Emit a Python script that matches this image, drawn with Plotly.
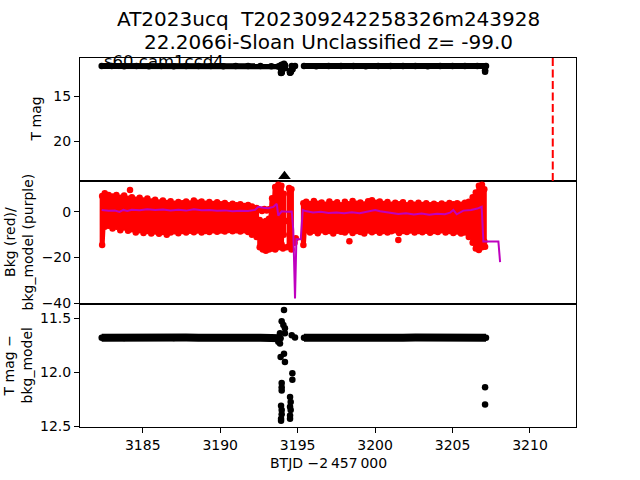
import plotly.graph_objects as go
from plotly.subplots import make_subplots

FONT = "DejaVu Sans"

# ---------------- data ----------------
# T mag light curve: dense flat band (two orbits)
band_t = [3182.35, 3183.0, 3183.8, 3184.6, 3185.4, 3186.2, 3187.0, 3187.8, 3188.6, 3189.4,
          3190.2, 3191.0, 3191.8, 3192.6, 3193.3, 3193.9,
          3195.41, 3196.2, 3197.0, 3197.8, 3198.6, 3199.4, 3200.2, 3201.0, 3201.8, 3202.6,
          3203.4, 3204.2, 3205.0, 3205.8, 3206.6, 3207.16]
band_mag = [11.682, 11.680, 11.684, 11.679, 11.683, 11.681, 11.684, 11.680, 11.682, 11.679,
            11.683, 11.680, 11.682, 11.681, 11.684, 11.686,
            11.681, 11.683, 11.679, 11.682, 11.680, 11.683, 11.681, 11.679, 11.682, 11.680,
            11.683, 11.681, 11.679, 11.682, 11.678, 11.682]
# T mag individual deviating points
pts_t = [3194.12, 3193.97, 3194.08, 3194.18, 3193.86, 3194.18, 3194.62, 3194.83, 3193.75,
         3193.86, 3194.12, 3193.90, 3194.18, 3194.66, 3194.66, 3193.97, 3193.97, 3193.97,
         3194.51, 3194.55, 3193.93, 3194.51, 3193.97, 3194.55, 3193.97, 3194.51, 3193.93,
         3194.51, 3193.93, 3207.10, 3207.10]
pts_mag = [11.426, 11.53, 11.565, 11.595, 11.64, 11.64, 11.66, 11.68, 11.72,
           11.735, 11.83, 11.86, 11.905, 12.01, 12.07, 12.10, 12.14, 12.17,
           12.23, 12.275, 12.31, 12.32, 12.35, 12.35, 12.39, 12.40, 12.43,
           12.43, 12.45, 12.14, 12.30]

# Background: upper / lower extent of the dense red scatter per time column
bkg_t = [3182.38, 3182.55, 3182.80, 3183.05, 3183.30, 3183.55, 3183.80, 3184.05, 3184.30, 3184.55,
         3184.80, 3185.05, 3185.30, 3185.55, 3185.80, 3186.05, 3186.30, 3186.55, 3186.80, 3187.05,
         3187.30, 3187.55, 3187.80, 3188.05, 3188.30, 3188.55, 3188.80, 3189.05, 3189.30, 3189.55,
         3189.80, 3190.05, 3190.30, 3190.55, 3190.80, 3191.05, 3191.30, 3191.55, 3191.80, 3192.05,
         3192.35, 3192.55, 3192.75, 3192.95, 3193.15, 3193.35, 3193.55, 3193.75, 3193.95, 3194.10,
         3194.45, 3194.60,
         3195.37, 3195.55, 3195.80, 3196.05, 3196.30, 3196.55, 3196.80, 3197.05, 3197.30, 3197.55,
         3197.80, 3198.05, 3198.30, 3198.55, 3198.80, 3199.05, 3199.30, 3199.55, 3199.80, 3200.05,
         3200.30, 3200.55, 3200.80, 3201.05, 3201.30, 3201.55, 3201.80, 3202.05, 3202.30, 3202.55,
         3202.80, 3203.05, 3203.30, 3203.55, 3203.80, 3204.05, 3204.30, 3204.55, 3204.80, 3205.05,
         3205.30, 3205.55, 3205.80, 3206.05, 3206.30, 3206.50, 3206.70, 3206.90, 3207.05]
bkg_hi = [7.0, 8.2, 7.5, 6.8, 7.5, 6.2, 7.2, 5.8, 6.5, 5.4,
          6.2, 5.0, 5.9, 4.6, 5.4, 4.2, 5.0, 3.9, 4.7, 3.6,
          4.4, 3.8, 4.6, 3.7, 5.0, 4.0, 4.6, 3.6, 4.4, 3.5,
          4.3, 3.4, 3.9, 3.0, 3.6, 2.9, 3.4, 2.6, 3.1, 2.4,
          1.8, -3.5, -4.5, -4.0, -3.0, 6.0, 11.0, 12.0, 11.5, 8.0,
          10.5, 10.0,
          3.8, 4.5, 3.5, 4.8, 3.6, 4.2, 3.2, 4.6, 3.5, 4.3,
          3.0, 4.5, 3.4, 4.8, 3.6, 4.2, 3.3, 4.7, 5.2, 4.0,
          4.6, 3.5, 4.4, 3.2, 4.1, 3.4, 4.3, 3.0, 3.9, 3.2,
          4.0, 3.1, 3.8, 3.0, 3.6, 2.9, 3.7, 3.1, 3.9, 3.4,
          3.8, 3.2, 4.0, 4.5, 6.5, 8.5, 11.5, 12.0, 10.0]
bkg_lo = [-14.5, -6.5, -6.0, -7.2, -6.5, -8.0, -6.8, -8.2, -7.6, -9.0,
          -8.0, -9.2, -8.4, -9.5, -8.6, -9.6, -8.8, -10.0, -9.0, -8.5,
          -9.3, -8.4, -9.0, -8.2, -8.9, -8.1, -9.0, -8.3, -8.8, -8.0,
          -8.7, -8.1, -8.6, -7.9, -8.5, -8.0, -8.6, -8.0, -8.8, -10.0,
          -11.0, -15.5, -16.5, -17.0, -16.5, -16.0, -16.5, -15.5, -14.0, -10.0,
          -15.0, -16.5,
          -14.5, -8.0, -9.0, -8.2, -9.3, -8.0, -8.8, -8.3, -9.5, -8.2,
          -8.7, -9.0, -8.0, -9.2, -8.4, -8.8, -9.4, -8.1, -8.9, -8.2,
          -9.1, -8.3, -9.0, -8.5, -8.0, -9.2, -8.4, -8.8, -8.1, -9.0,
          -8.3, -8.9, -8.2, -9.1, -8.4, -8.8, -8.0, -9.0, -8.4, -9.2,
          -8.6, -9.5, -9.0, -11.0, -13.5, -16.0, -16.7, -15.5, -13.0]
# isolated background points
bkg_pt_t = [3184.18, 3198.34, 3201.50, 3207.10, 3192.55, 3192.70, 3192.85, 3193.00, 3193.15,
            3194.05, 3194.28, 3194.80, 3194.88, 3194.25, 3193.97]
bkg_pt_v = [9.7, -12.8, -12.3, -15.3, 1.0, 0.4, 1.3, 0.6, 1.2,
            -16.0, -15.5, -13.5, -11.5, -4.0, -14.7]

# background model (purple)
model_t = [3182.35, 3182.8, 3183.2, 3183.5, 3183.75, 3184.0, 3184.3, 3184.8, 3185.3, 3185.8,
           3186.3, 3186.8, 3187.3, 3187.8, 3188.3, 3188.8, 3189.3, 3189.8, 3190.3, 3190.8,
           3191.3, 3191.8, 3192.25, 3192.46, 3192.8, 3193.1, 3193.43, 3193.65, 3193.75, 3193.97,
           3194.3, 3194.62, 3194.72, 3194.83, 3194.92, 3195.2, 3195.33, 3195.5, 3196.0, 3196.5,
           3197.0, 3197.5, 3198.0, 3198.5, 3199.0, 3199.46, 3200.0, 3200.32, 3200.97, 3201.5,
           3202.0, 3202.5, 3203.0, 3203.5, 3204.0, 3204.5, 3204.84, 3205.05, 3205.27, 3205.7,
           3206.2, 3206.6, 3206.88, 3206.99, 3207.96, 3208.07]
model_v = [0.9, 0.5, 0.6, 0.0, 0.9, 0.4, 1.0, 0.8, 1.2, 0.9,
           1.1, 0.7, 1.0, 0.6, 1.2, 0.8, 0.9, 0.5, 0.7, 0.3,
           0.5, 0.4, 0.9, 2.3, 1.9, 1.6, 2.2, 3.6, -1.6, 0.3,
           0.1, 0.2, -8.0, -38.0, -12.0, -12.0, 0.9, 0.4, -0.2, 0.1,
           -0.4, -0.2, -0.6, -0.1, -0.5, 0.0, 0.9, 0.3, -0.5, -0.9,
           -0.6, -1.1, -0.7, -1.2, -0.8, -1.0, -0.3, 0.9, -1.0, 0.6,
           0.9, 1.5, 2.3, -13.0, -13.0, -22.0]

disc_t = [3194.15]
disc_mag = [23.9]
peak_t = 3211.47
label_txt = "s60 cam1ccd4"

title1 = "AT2023ucq\u00a0 T202309242258326m243928"
title2 = "22.2066i-Sloan Unclassified z= -99.0"

x_range = [3180.95, 3212.97]
top_range = [24.44, 10.78]
mid_range = [-40.4, 13.6]
bot_range = [12.507, 11.37]


def split_gaps(ts, vs, gap):
    xs, ys, prev = [], [], None
    for t, v in zip(ts, vs):
        if prev is not None and t - prev > gap:
            xs.append(None); ys.append(None)
        xs.append(t); ys.append(v)
        prev = t
    return xs, ys


def zigzag(ts, hi, lo, gap):
    xs, ys, prev = [], [], None
    for t, h, l in zip(ts, hi, lo):
        if prev is not None and t - prev > gap:
            xs.append(None); ys.append(None)
        xs += [t, t]; ys += [h, l]
        prev = t
    return xs, ys


fig = make_subplots(rows=3, cols=1, shared_xaxes=True, vertical_spacing=0)

bx, by = split_gaps(band_t, band_mag, 1.2)

# ---- top panel ----
fig.add_trace(go.Scatter(x=[3182.5], y=[11.36], mode="text", text=[label_txt],
                         textposition="middle right", cliponaxis=False,
                         textfont=dict(family=FONT, size=16.5, color="black"),
                         showlegend=False), row=1, col=1)
fig.add_trace(go.Scatter(x=bx, y=by, mode="lines+markers",
                         line=dict(color="black", width=6),
                         marker=dict(color="black", size=6.5), showlegend=False), row=1, col=1)
fig.add_trace(go.Scatter(x=pts_t, y=pts_mag, mode="markers",
                         marker=dict(color="black", size=6.5), showlegend=False), row=1, col=1)
fig.add_trace(go.Scatter(x=disc_t, y=disc_mag, mode="markers",
                         marker=dict(color="black", size=11, symbol="triangle-up"),
                         cliponaxis=False, showlegend=False), row=1, col=1)

# ---- middle panel ----
zx, zy = zigzag(bkg_t, bkg_hi, bkg_lo, 0.32)
fig.add_trace(go.Scatter(x=zx, y=zy, mode="lines+markers",
                         line=dict(color="#ff0000", width=5),
                         marker=dict(color="#ff0000", size=6.5), showlegend=False), row=2, col=1)
fig.add_trace(go.Scatter(x=bkg_pt_t, y=bkg_pt_v, mode="markers",
                         marker=dict(color="#ff0000", size=6.5), showlegend=False), row=2, col=1)
fig.add_trace(go.Scatter(x=model_t, y=model_v, mode="lines",
                         line=dict(color="#bf00bf", width=2), showlegend=False), row=2, col=1)

# ---- bottom panel ----
fig.add_trace(go.Scatter(x=bx, y=by, mode="lines+markers",
                         line=dict(color="black", width=8),
                         marker=dict(color="black", size=6.5), showlegend=False), row=3, col=1)
fig.add_trace(go.Scatter(x=pts_t, y=pts_mag, mode="markers",
                         marker=dict(color="black", size=6.5), showlegend=False), row=3, col=1)

fig.add_shape(type="line", xref="x", yref="y domain", x0=peak_t, x1=peak_t, y0=0, y1=1,
              line=dict(color="#ff0000", width=2, dash="8px,3.5px"))

axis_common = dict(showline=True, linecolor="black", linewidth=1, mirror=True,
                   showgrid=False, zeroline=False, ticks="outside", ticklen=5,
                   tickcolor="black", tickfont=dict(family=FONT, size=14, color="black"))

for r in (1, 2, 3):
    fig.update_xaxes(range=x_range, row=r, col=1, **axis_common)
fig.update_xaxes(ticks="", showticklabels=False, row=1, col=1)
fig.update_xaxes(ticks="", showticklabels=False, row=2, col=1)
fig.update_xaxes(tickvals=[3185, 3190, 3195, 3200, 3205, 3210], row=3, col=1)

fig.update_yaxes(range=top_range, tickvals=[15, 20], row=1, col=1, **axis_common)
fig.update_yaxes(range=mid_range, tickvals=[0, -20, -40], row=2, col=1, **axis_common)
fig.update_yaxes(range=bot_range, tickvals=[11.5, 12.0, 12.5], tickformat=".1f",
                 row=3, col=1, **axis_common)

ann_font = dict(family=FONT, size=14, color="black")
H = 369.0
W = 496.0
annotations = [
    dict(text=title1, x=0.5, y=(427 - 19) / H, xref="paper", yref="paper",
         xanchor="center", yanchor="middle", showarrow=False,
         font=dict(family=FONT, size=20, color="black")),
    dict(text=title2, x=0.5, y=(427 - 42) / H, xref="paper", yref="paper",
         xanchor="center", yanchor="middle", showarrow=False,
         font=dict(family=FONT, size=20, color="black")),
    dict(text="BTJD \u22122\u2009457\u2009000", x=0.5, y=(427 - 463) / H, xref="paper",
         yref="paper", xanchor="center", yanchor="middle", showarrow=False, font=ann_font),
    dict(text="T mag", x=(46 - 80) / W, y=(427 - 119.5) / H, xref="paper", yref="paper",
         xanchor="right", yanchor="middle", textangle=-90, showarrow=False, font=ann_font),
    dict(text="Bkg (red)/<br>bkg_model (purple)", x=(37 - 80) / W, y=(427 - 242.5) / H,
         xref="paper", yref="paper", xanchor="right", yanchor="middle", textangle=-90,
         showarrow=False, font=ann_font),
    dict(text="T mag \u2212<br>bkg_model", x=(36 - 80) / W, y=(427 - 365.5) / H,
         xref="paper", yref="paper", xanchor="right", yanchor="middle", textangle=-90,
         showarrow=False, font=ann_font),
]

fig.update_layout(width=640, height=480, margin=dict(l=80, r=64, t=58, b=53),
                  plot_bgcolor="white", paper_bgcolor="white",
                  font=dict(family=FONT, color="black"),
                  annotations=annotations, showlegend=False)

fig.write_html("out.html")
